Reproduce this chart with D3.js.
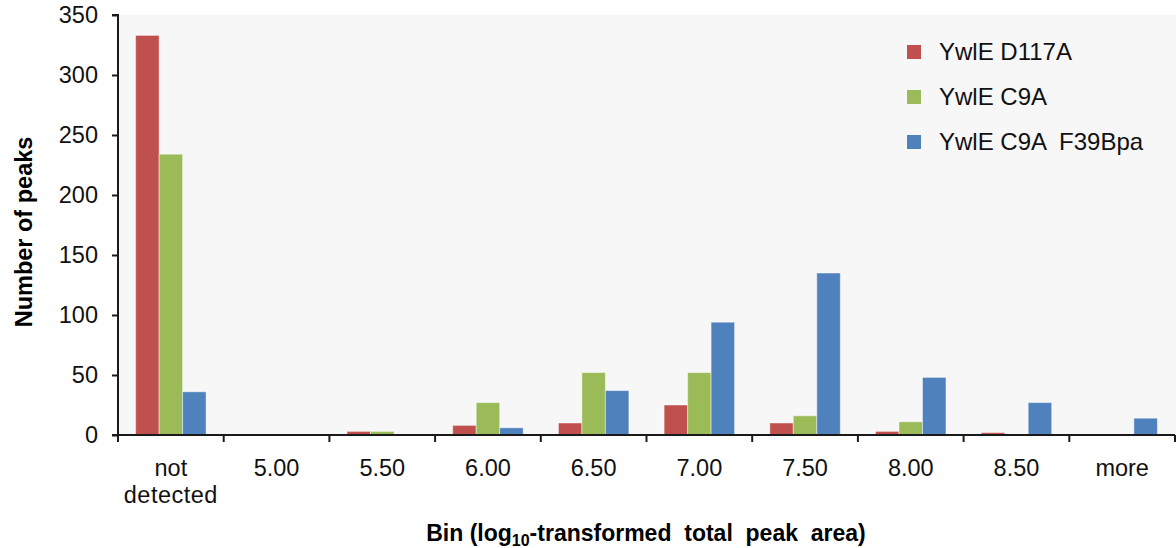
<!DOCTYPE html>
<html>
<head>
<meta charset="utf-8">
<script src="https://cdn.jsdelivr.net/npm/d3@7"></script>
<style>
  html, body { margin: 0; padding: 0; background: #fff; }
  svg { display: block; font-family: "Liberation Sans", Arial, sans-serif; }
</style>
</head>
<body>
<svg id="chart" width="1176" height="548"></svg>
<script>
const categories = ["not detected", "5.00", "5.50", "6.00", "6.50", "7.00", "7.50", "8.00", "8.50", "more"];
const seriesNames = ["YwlE D117A", "YwlE C9A", "YwlE C9A  F39Bpa"];
const seriesColors = ["#c0504d", "#9bbb59", "#4f81bd"];
const valuesD117A = [333, 0, 3, 8, 10, 25, 10, 3, 2, 0];
const valuesC9A = [234, 0, 3, 27, 52, 52, 16, 11, 0, 0];
const valuesC9AF39Bpa = [36, 0, 0, 6, 37, 94, 135, 48, 27, 14];
const yTicks = [0, 50, 100, 150, 200, 250, 300, 350];
const yTitle = "Number of peaks";

const seriesValues = [valuesD117A, valuesC9A, valuesC9AF39Bpa];

const svg = d3.select("#chart");
const m = { left: 118, top: 15, right: 1175, bottom: 435 };

const x = d3.scaleBand().domain(categories).range([m.left, m.right]).paddingInner(0).paddingOuter(0);
const xs = d3.scaleBand().domain(d3.range(seriesNames.length)).range([0, x.bandwidth()]).paddingInner(0).paddingOuter(0.75);
const y = d3.scaleLinear().domain([0, 350]).range([m.bottom, m.top]);

// plot background
svg.append("rect")
  .attr("x", m.left).attr("y", m.top)
  .attr("width", 1176 - m.left).attr("height", m.bottom - m.top)
  .attr("fill", "#f7f7f7");

// bars
const groups = svg.append("g").selectAll("g")
  .data(categories).join("g")
  .attr("transform", d => `translate(${x(d)},0)`);

groups.selectAll("rect")
  .data((c, ci) => seriesValues.map((vals, si) => ({ si, v: vals[ci] })))
  .join("rect")
  .filter(d => d.v > 0)
  .attr("x", d => xs(d.si))
  .attr("width", xs.bandwidth())
  .attr("y", d => y(d.v))
  .attr("height", d => y(0) - y(d.v))
  .attr("fill", d => seriesColors[d.si])
  .attr("stroke", "rgba(255,255,255,0.45)")
  .attr("stroke-width", 1);

// y axis
const yAxis = svg.append("g")
  .attr("transform", `translate(${m.left},0)`)
  .call(d3.axisLeft(y).tickValues(yTicks).tickSize(6).tickPadding(14).tickFormat(d3.format("d")));
yAxis.select(".domain").attr("stroke", "#1a1a1a").attr("stroke-width", 2)
  .attr("d", `M-6,${m.top}H0V${m.bottom}`);
yAxis.selectAll(".tick line").attr("stroke", "#1a1a1a").attr("stroke-width", 2);
yAxis.selectAll(".tick text").attr("font-size", 23.5).attr("fill", "#111")
  .attr("font-family", "Liberation Sans, Arial, sans-serif");

// x axis
const xAxisG = svg.append("g");
xAxisG.append("line")
  .attr("x1", m.left - 6).attr("x2", m.right)
  .attr("y1", y(0)).attr("y2", y(0))
  .attr("stroke", "#1a1a1a").attr("stroke-width", 2);
const boundaries = categories.map(c => x(c)).concat([x(categories[categories.length - 1]) + x.bandwidth()]);
xAxisG.selectAll("line.tk").data(boundaries).join("line")
  .attr("class", "tk")
  .attr("x1", d => d).attr("x2", d => d)
  .attr("y1", y(0)).attr("y2", y(0) + 7)
  .attr("stroke", "#1a1a1a").attr("stroke-width", 2);

const xLabels = xAxisG.selectAll("text.xl").data(categories).join("text")
  .attr("class", "xl")
  .attr("text-anchor", "middle")
  .attr("font-size", 23.5)
  .attr("fill", "#111")
  .attr("transform", d => `translate(${x(d) + x.bandwidth() / 2},476)`);
xLabels.each(function(d) {
  const parts = d.split(" ");
  const t = d3.select(this);
  if (parts.length > 1 && d === "not detected") {
    t.append("tspan").attr("x", 0).attr("y", 0).text(parts[0]);
    t.append("tspan").attr("x", 0).attr("y", 27).attr("letter-spacing", 0.5).text(parts[1]);
  } else {
    t.text(d);
  }
});

// axis titles
svg.append("text")
  .attr("transform", `translate(32,232) rotate(-90)`)
  .attr("text-anchor", "middle")
  .attr("font-size", 23.5).attr("font-weight", "bold").attr("fill", "#000")
  .text(yTitle);

const xt = svg.append("text")
  .attr("x", 646).attr("y", 541)
  .attr("text-anchor", "middle")
  .attr("font-size", 23).attr("font-weight", "bold").attr("fill", "#000")
  .style("white-space", "pre");
xt.append("tspan").text("Bin (log");
xt.append("tspan").attr("font-size", 16).attr("dy", 5).text("10");
xt.append("tspan").attr("dy", -5).text("-transformed  total  peak  area)");

// legend
const leg = svg.append("g").selectAll("g").data(seriesNames).join("g")
  .attr("transform", (d, i) => `translate(907,${45 + i * 45})`);
leg.append("rect").attr("width", 14).attr("height", 14)
  .attr("fill", (d, i) => seriesColors[i]);
leg.append("text").attr("x", 32).attr("y", 15)
  .attr("font-size", 24).attr("fill", "#111")
  .style("white-space", "pre")
  .text(d => d);
</script>
</body>
</html>
